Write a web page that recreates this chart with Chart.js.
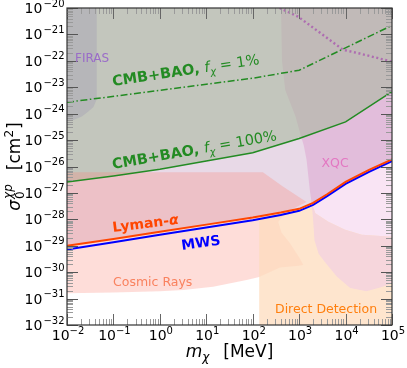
<!DOCTYPE html>
<html><head><meta charset="utf-8">
<script src="https://cdn.jsdelivr.net/npm/chart.js@4.4.1/dist/chart.umd.min.js"></script>
<style>html,body{margin:0;padding:0;background:#fff;}canvas{display:block;}</style>
</head><body>
<canvas id="c" width="407" height="368" style="width:407px;height:368px"></canvas>
<script>
// ---- axis ranges / ticks ----
const xTickExps = [-2, -1, 0, 1, 2, 3, 4, 5];
const yTickExps = [-32, -31, -30, -29, -28, -27, -26, -25, -24, -23, -22, -21, -20];
const xMin = 1e-2, xMax = 1e5, yMin = 1e-32, yMax = 1e-20;

// ---- lines ----
const lymanMass  = [0.01, 0.1, 1, 10, 100, 400, 1000, 2000, 4000, 1e4, 3.2e4, 1e5];
const lymanSigma = [1.0e-29, 1.8e-29, 3.4e-29, 6.3e-29, 1.17e-28, 1.8e-28, 2.5e-28, 4.2e-28, 8.9e-28, 2.6e-27, 7.4e-27, 1.86e-26];
const mwsSigma   = [7.2e-30, 1.35e-29, 2.6e-29, 4.9e-29, 9.3e-29, 1.45e-28, 2.1e-28, 3.5e-28, 7.6e-28, 2.2e-27, 6.3e-27, 1.6e-26];

const cmb100Mass  = [0.01, 0.1, 1, 10, 100, 1000, 1e4, 1e5];
const cmb100Sigma = [2.6e-27, 4.4e-27, 7.9e-27, 1.6e-26, 3.3e-26, 1.15e-25, 4.9e-25, 6.8e-24];

const cmb1Mass  = [0.01, 1, 10, 100, 1000, 1e5];
const cmb1Sigma = [2.7e-24, 7.6e-24, 1.3e-23, 2.2e-23, 4.4e-23, 2.2e-21];

const dottedMass  = [380, 950, 8900, 2.0e4, 1e5];
const dottedSigma = [1e-20, 4.7e-21, 2.6e-22, 1.9e-22, 9.3e-23];

// ---- regions ----
const firasMass  = [0.01, 0.0437, 0.0437, 0.0372, 0.0288, 0.0209, 0.0126, 0.01];
const firasSigma = [1e-20, 1e-20, 3.5e-24, 1.8e-24, 1.2e-24, 7.8e-25, 5.4e-25, 5.0e-25];

const xqcEdgeMass  = [407, 427, 501, 832, 1072, 1259, 1445, 1698, 1862];
const xqcEdgeSigma = [1e-20, 1e-22, 7.9e-24, 7.9e-25, 1.6e-25, 6.3e-26, 1.8e-26, 1.3e-27, 4.1e-28];
const xqcLowMass  = [1862, 2239, 4266, 9772, 22387, 1e5];
const xqcLowSigma = [4.1e-28, 1.7e-28, 8.1e-29, 4.0e-29, 2.6e-29, 2.2e-29];
const brEdgeMass  = [1862, 1995, 2138, 2630, 3548, 6457, 12589, 28184, 63096, 1e5];
const brEdgeSigma = [4.1e-28, 1e-28, 1.6e-29, 5.0e-30, 2.5e-30, 6.8e-31, 2.5e-31, 1.9e-31, 2.8e-31, 3.8e-31];

const ddEdgeMass  = [1e5, 138, 138];
const ddEdgeSigma = [1e-32, 1e-32, 1.3e-28];

const crUpperMass  = [0.01, 166, 447, 1445];
const crUpperSigma = [6.0e-27, 6.0e-27, 1.74e-27, 4.5e-28];
const crRightMass  = [501, 355, 417, 631, 1047, 1230];
const crRightSigma = [1.8e-28, 7.9e-29, 3.2e-29, 1.26e-29, 3.2e-30, 1.86e-30];
const crLowerMass  = [1000, 389, 138, 74, 14, 3.2, 1, 0.1, 0.01];
const crLowerSigma = [1.74e-30, 1.5e-30, 6.5e-31, 5.0e-31, 2.8e-31, 2.1e-31, 1.9e-31, 1.7e-31, 1.6e-31];

// ---- build helpers ----
const pts = (ms, ss) => ms.map((m, i) => ({x: m, y: ss[i]}));
const close = (a) => a.concat([a[0]]);
const lyPts = pts(lymanMass, lymanSigma);

const polyLav = close([...lyPts, {x: xMax, y: yMax}, {x: xMin, y: yMax}]);
const polyXqcUp = close([...pts(xqcEdgeMass, xqcEdgeSigma), ...lyPts.filter(p => p.x > 1862), {x: xMax, y: yMax}]);
const polyXqcLight = close([{x: 1862, y: 4.1e-28}, ...lyPts.filter(p => p.x > 1862), ...pts(xqcLowMass, xqcLowSigma).reverse()]);
const polyBr = close([...pts(brEdgeMass, brEdgeSigma), ...pts(xqcLowMass, xqcLowSigma).reverse()]);
const polyDD = close([...pts(ddEdgeMass, ddEdgeSigma), ...lyPts.filter(p => p.x > 138)]);
const polyCMB = close([...pts(cmb100Mass, cmb100Sigma), {x: xMax, y: yMax}, {x: xMin, y: yMax}]);
const polyFiras = close(pts(firasMass, firasSigma));
const polyCR = close([...pts(crUpperMass, crUpperSigma), ...pts(crRightMass, crRightSigma), ...pts(crLowerMass, crLowerSigma)]);

const layers = [
  {data: polyLav, fill: 'shape', backgroundColor: '#e8d9e7'},
  {data: polyXqcUp, fill: 'shape', backgroundColor: '#e2bddb'},
  {data: polyCMB, fill: 'shape', backgroundColor: 'rgba(168,184,158,0.58)'},
  {data: polyFiras, fill: 'shape', backgroundColor: '#b6b6b9'},
  {data: polyCR, fill: 'shape', backgroundColor: 'rgba(250,128,114,0.27)'},
  {data: polyDD, fill: 'shape', backgroundColor: 'rgba(254,220,190,0.75)'},
  {data: polyXqcLight, fill: 'shape', backgroundColor: '#f9e4f4'},
  {data: polyBr, fill: 'shape', backgroundColor: '#f6d6dc'},
  {data: pts(dottedMass, dottedSigma), fill: false, borderColor: 'rgba(170,95,175,0.85)', borderWidth: 2.4, borderDash: [2, 2.6]},
  {data: pts(cmb1Mass, cmb1Sigma), fill: false, borderColor: '#238b23', borderWidth: 1.5, borderDash: [7, 2.5, 1.5, 2.5]},
  {data: pts(cmb100Mass, cmb100Sigma), fill: false, borderColor: '#238b23', borderWidth: 1.5},
  {data: pts(lymanMass, mwsSigma), fill: false, borderColor: '#0000ff', borderWidth: 2},
  {data: lyPts, fill: false, borderColor: '#ff4500', borderWidth: 2}
];
const datasets = layers.map((l, i) => Object.assign({
  order: 100 - i, pointRadius: 0, borderWidth: 0, borderColor: 'rgba(0,0,0,0)', tension: 0
}, l));

const FONT = '"DejaVu Sans", "Liberation Sans", sans-serif';
function f(size, style) { return (style || '') + ' ' + size + 'px ' + FONT; }

function drawRich(ctx, x, y, angleDeg, pieces) {
  ctx.save();
  ctx.translate(x, y);
  ctx.rotate(angleDeg * Math.PI / 180);
  ctx.textBaseline = 'alphabetic';
  ctx.textAlign = 'left';
  let cx = 0;
  for (const p of pieces) {
    ctx.font = p.font;
    ctx.fillStyle = p.color;
    ctx.fillText(p.t, cx, p.dy || 0);
    cx += ctx.measureText(p.t).width + (p.gap || 0);
  }
  ctx.restore();
  return cx;
}
function richWidth(ctx, pieces) {
  let w = 0;
  for (const p of pieces) { ctx.font = p.font; w += ctx.measureText(p.t).width + (p.gap || 0); }
  return w;
}
const supDigits = (e) => (e < 0 ? '\u2212' : '') + Math.abs(e);

const decor = {
  id: 'decor',
  afterDraw(chart) {
    const ctx = chart.ctx, a = chart.chartArea;
    const xs = chart.scales.x, ys = chart.scales.y;
    ctx.save();
    ctx.lineWidth = 1;
    for (let e = -2; e <= 5; e++) {
      for (let k = 1; k <= 9; k++) {
        const v = k * Math.pow(10, e);
        if (v < xMin * 0.999 || v > xMax * 1.001) continue;
        const px = Math.round(xs.getPixelForValue(v)) + 0.5;
        const len = k === 1 ? 11 : 6;
        ctx.strokeStyle = k === 1 ? '#666' : '#9a9a9a';
        ctx.beginPath();
        ctx.moveTo(px, a.bottom); ctx.lineTo(px, a.bottom - len);
        ctx.moveTo(px, a.top); ctx.lineTo(px, a.top + len);
        ctx.stroke();
      }
    }
    for (let e = -32; e <= -20; e++) {
      for (let k = 1; k <= 9; k++) {
        const v = k * Math.pow(10, e);
        if (v < yMin * 0.999 || v > yMax * 1.001) continue;
        const py = Math.round(ys.getPixelForValue(v)) + 0.5;
        const len = k === 1 ? 11 : 6;
        ctx.strokeStyle = k === 1 ? '#555' : '#9a9a9a';
        ctx.beginPath();
        ctx.moveTo(a.left, py); ctx.lineTo(a.left + len, py);
        ctx.moveTo(a.right, py); ctx.lineTo(a.right - len, py);
        ctx.stroke();
      }
    }
    ctx.strokeStyle = '#333';
    ctx.lineWidth = 1.2;
    ctx.strokeRect(a.left, a.top, a.right - a.left, a.bottom - a.top);

    for (const e of xTickExps) {
      const px = xs.getPixelForValue(Math.pow(10, e));
      const pcs = [{t: '10', font: f(14), color: '#000'}, {t: supDigits(e), font: f(10), color: '#000', dy: -6.5}];
      const w = richWidth(ctx, pcs);
      drawRich(ctx, px - w / 2 + 1, a.bottom + 15, 0, pcs);
    }
    for (const e of yTickExps) {
      const py = ys.getPixelForValue(Math.pow(10, e));
      const pcs = [{t: '10', font: f(14), color: '#000', gap: 1}, {t: supDigits(e), font: f(10), color: '#000', dy: -6.5}];
      const w = richWidth(ctx, pcs);
      drawRich(ctx, 64.5 - w, py + 5, 0, pcs);
    }

    const xt = [
      {t: 'm', font: f(17, 'italic'), color: '#000'},
      {t: '\u03c7', font: f(12, 'italic'), color: '#000', dy: 3.5, gap: 14},
      {t: '[MeV]', font: f(17), color: '#000'}
    ];
    const xw = richWidth(ctx, xt);
    drawRich(ctx, (a.left + a.right) / 2 - xw / 2, 357, 0, xt);

    ctx.save();
    ctx.translate(20, (a.top + a.bottom) / 2);
    ctx.rotate(-Math.PI / 2);
    ctx.textAlign = 'left'; ctx.textBaseline = 'alphabetic';
    ctx.fillStyle = '#000';
    ctx.font = f(17, 'italic');
    const w0 = ctx.measureText('\u03c3').width;
    ctx.font = f(12, 'italic');
    const w1 = ctx.measureText('\u03c7p').width;
    ctx.font = f(17);
    const w2 = ctx.measureText('[cm').width + ctx.measureText(']').width;
    ctx.font = f(12);
    const w3 = ctx.measureText('2').width;
    let cx = -(w0 + 1 + w1 + 14 + w2 + w3 + 1) / 2;
    ctx.font = f(17, 'italic'); ctx.fillText('\u03c3', cx, 0); cx += w0 + 1;
    ctx.font = f(12); ctx.fillText('0', cx, 4);
    ctx.font = f(12, 'italic'); ctx.fillText('\u03c7p', cx, -8); cx += w1 + 14;
    ctx.font = f(17); ctx.fillText('[cm', cx, 0); cx += ctx.measureText('[cm').width;
    ctx.font = f(12); ctx.fillText('2', cx, -7); cx += w3 + 1;
    ctx.font = f(17); ctx.fillText(']', cx, 0);
    ctx.restore();

    const green = '#238b23';
    drawRich(ctx, 113, 86, -8.5, [
      {t: 'CMB+BAO, ', font: f(14.5, 'bold'), color: green},
      {t: 'f', font: f(14.5, 'italic'), color: green},
      {t: '\u03c7', font: f(10, 'italic'), color: green, dy: 3.5},
      {t: ' = 1%', font: f(14.5), color: green}
    ]);
    drawRich(ctx, 113, 169, -10, [
      {t: 'CMB+BAO, ', font: f(14.5, 'bold'), color: green},
      {t: 'f', font: f(14.5, 'italic'), color: green},
      {t: '\u03c7', font: f(10, 'italic'), color: green, dy: 3.5},
      {t: ' = 100%', font: f(14.5), color: green}
    ]);
    drawRich(ctx, 113, 232, -7, [
      {t: 'Lyman-', font: f(14, 'bold'), color: '#ff4500'},
      {t: '\u03b1', font: f(14, 'italic bold'), color: '#ff4500'}
    ]);
    drawRich(ctx, 182, 250, -8, [{t: 'MWS', font: f(14, 'bold'), color: '#0000ff'}]);
    drawRich(ctx, 321.5, 167, 0, [{t: 'XQC', font: f(12.5), color: '#e377c2'}]);
    drawRich(ctx, 75, 62, 0, [{t: 'FIRAS', font: f(12), color: '#9a6cc8'}]);
    drawRich(ctx, 113, 286, 0, [{t: 'Cosmic Rays', font: f(12.5), color: '#f9825f'}]);
    drawRich(ctx, 275, 313, 0, [{t: 'Direct Detection', font: f(12.5), color: '#ff7f0e'}]);
    ctx.restore();
  }
};

new Chart(document.getElementById('c'), {
  type: 'line',
  data: {datasets},
  options: {
    responsive: false,
    animation: false,
    devicePixelRatio: 1,
    layout: {padding: {left: 67, right: 15, top: 8, bottom: 43}},
    plugins: {legend: {display: false}, tooltip: {enabled: false}},
    elements: {point: {radius: 0}, line: {tension: 0}},
    scales: {
      x: {type: 'logarithmic', min: xMin, max: xMax, display: false},
      y: {type: 'logarithmic', min: yMin, max: yMax, display: false}
    }
  },
  plugins: [decor]
});
</script>
</body></html>
